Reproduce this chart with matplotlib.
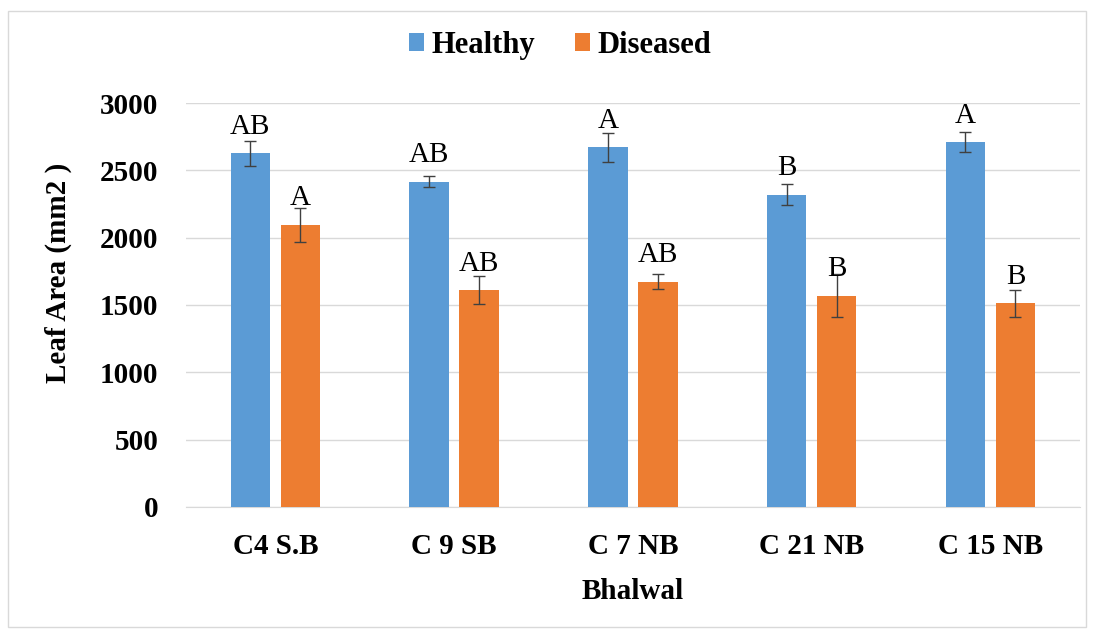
"""
Leaf area of healthy vs diseased plants (Bhalwal) — grouped bar chart
"""

import matplotlib
import matplotlib.pyplot as plt
import numpy as np
from matplotlib.patches import Rectangle

matplotlib.rcParams["font.family"] = ["Liberation Serif", "DejaVu Serif"]

categories = ["C4 S.B", "C 9 SB", "C 7 NB", "C 21 NB", "C 15 NB"]
healthy_values = [2625, 2415, 2670, 2320, 2710]
healthy_errors = [90, 42, 110, 80, 72]
diseased_values = [2095, 1610, 1672, 1567, 1512]
diseased_errors = [125, 105, 57, 160, 100]
healthy_letters = ["AB", "AB", "A", "B", "A"]
diseased_letters = ["A", "AB", "AB", "B", "B"]

BLUE = "#5b9bd5"
ORANGE = "#ed7d31"

figure = plt.figure(figsize=(10.94, 6.32), dpi=100)
axis = figure.add_axes([0.170, 0.198, 0.817, 0.639])

# light chart-area border
figure.patches.append(
    Rectangle((0.007, 0.008), 0.986, 0.975, transform=figure.transFigure,
              fill=False, edgecolor="#d9d9d9", linewidth=1.0)
)

x = np.arange(len(categories))
width = 0.22
offset = 0.14

error_style = dict(ecolor="#404040", elinewidth=1.0, capsize=4, capthick=1.0)
bars_h = axis.bar(x - offset, healthy_values, width, color=BLUE, label="Healthy",
                  yerr=healthy_errors, error_kw=error_style, zorder=3)
bars_d = axis.bar(x + offset, diseased_values, width, color=ORANGE, label="Diseased",
                  yerr=diseased_errors, error_kw=error_style, zorder=3)

for bars, letters in ((bars_h, healthy_letters), (bars_d, diseased_letters)):
    for bar, letter in zip(bars, letters):
        axis.annotate(
            letter,
            (bar.get_x() + bar.get_width() / 2, bar.get_height()),
            xytext=(0, 14),
            textcoords="offset points",
            ha="center",
            va="baseline",
            fontsize=21,
            zorder=4,
        )

axis.set_ylim(0, 3000)
axis.set_xlim(-0.5, len(categories) - 0.5)
axis.set_yticks(np.arange(0, 3001, 500))
axis.set_xticks(x)
axis.set_xticklabels(categories)
axis.grid(axis="y", color="#d9d9d9", linewidth=1.0, zorder=0)
for side in ("top", "right", "left"):
    axis.spines[side].set_visible(False)
axis.spines["bottom"].set_color("#d9d9d9")
axis.tick_params(axis="both", length=0, labelsize=21)
axis.tick_params(axis="y", pad=20)
axis.tick_params(axis="x", pad=19)
for label in axis.get_xticklabels() + axis.get_yticklabels():
    label.set_fontweight("bold")

axis.set_ylabel("Leaf Area (mm2 )", fontsize=21, fontweight="bold")
axis.yaxis.set_label_coords(-0.127, 0.58)
axis.set_xlabel("Bhalwal", fontsize=21, fontweight="bold")
axis.xaxis.set_label_coords(0.5, -0.177)

figure.legend(
    loc="center",
    bbox_to_anchor=(0.512, 0.928),
    ncol=2,
    frameon=False,
    prop={"weight": "bold", "size": 22},
    handlelength=0.5,
    handleheight=0.55,
    handletextpad=0.25,
    columnspacing=1.3,
)

figure.savefig("out.png", dpi=100)
plt.close()
